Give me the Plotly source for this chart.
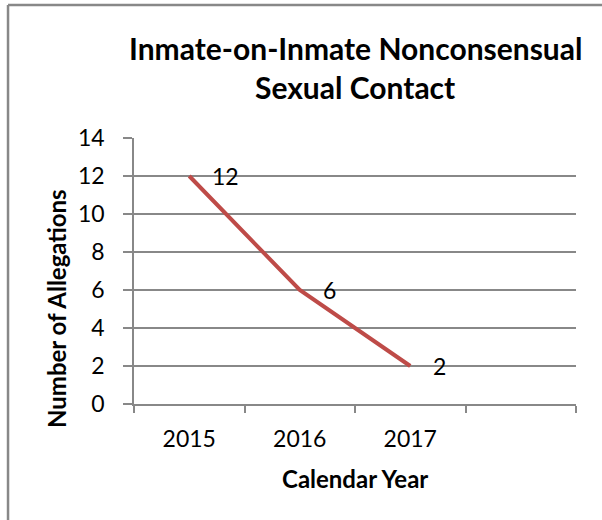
import plotly.graph_objects as go

years = [2015, 2016, 2017]
year_labels = ["2015", "2016", "2017"]
allegations = [12, 6, 2]
y_ticks = [0, 2, 4, 6, 8, 10, 12, 14]

title_lines = ["Inmate-on-Inmate Nonconsensual", "Sexual Contact"]
x_title = "Calendar Year"
y_title = "Number of Allegations"

FONT = "Lato"
GRID = "#888888"
LINE = "#BE4B48"

fig = go.Figure()
fig.add_trace(go.Scatter(
    x=years, y=allegations, mode="lines",
    line=dict(color=LINE, width=4),
    hoverinfo="skip", showlegend=False,
))

for x, y in zip(years, allegations):
    fig.add_annotation(x=x, y=y, xref="x", yref="y", text=str(y),
                       showarrow=False, xanchor="left", yanchor="middle",
                       xshift=21, font=dict(family=FONT, size=23, color="#000000"))

# title (two lines)
for line, shift in zip(title_lines, [90, 51]):
    fig.add_annotation(x=0.5, y=1, xref="paper", yref="paper",
                       text="<b>" + line + "</b>", showarrow=False,
                       xanchor="center", yanchor="middle", yshift=shift,
                       font=dict(family=FONT, size=30, color="#000000"))
# y title
fig.add_annotation(x=0, y=0.5, xref="paper", yref="paper",
                   text="<b>" + y_title + "</b>", showarrow=False, textangle=-90,
                   xanchor="center", yanchor="middle", xshift=-78, yshift=-38,
                   font=dict(family=FONT, size=24, color="#000000"))
# x title
fig.add_annotation(x=0.5, y=0, xref="paper", yref="paper",
                   text="<b>" + x_title + "</b>", showarrow=False,
                   xanchor="center", yanchor="middle", yshift=-74,
                   font=dict(family=FONT, size=24, color="#000000"))

# chart-area frame: only its left and top edges fall inside the picture
fig.add_shape(type="line", xref="paper", yref="paper",
              x0=-0.285, x1=-0.285, y0=-0.8, y1=1.5,
              line=dict(color="#888888", width=2.5), layer="below")
fig.add_shape(type="line", xref="paper", yref="paper",
              x0=-0.285, x1=1.5, y0=1.5, y1=1.5,
              line=dict(color="#888888", width=2.5), layer="below")

fig.update_layout(
    width=602, height=520,
    margin=dict(l=134, r=26, t=138, b=116),
    paper_bgcolor="white", plot_bgcolor="white",
    xaxis=dict(
        range=[2014.5, 2018.5], tickmode="array", tickvals=years, ticktext=year_labels,
        ticks="", showgrid=False, zeroline=False,
        showline=True, linecolor=GRID, linewidth=1.5,
        ticklabelstandoff=14,
        tickfont=dict(family=FONT, size=23, color="#000000"),
        minor=dict(tick0=2014.5, dtick=1, ticks="outside", ticklen=7, tickcolor=GRID,
                   tickwidth=1.5, showgrid=False),
        fixedrange=True,
    ),
    yaxis=dict(
        range=[0, 14], tickmode="array", tickvals=y_ticks,
        ticks="outside", ticklen=9, tickcolor=GRID, tickwidth=1.5,
        showgrid=True, gridcolor=GRID, gridwidth=1.5, zeroline=False,
        showline=True, linecolor=GRID, linewidth=1.5,
        ticklabelstandoff=14,
        tickfont=dict(family=FONT, size=23, color="#000000"),
        fixedrange=True,
    ),
)

fig.write_html("out.html", config={"displayModeBar": False},
               post_script="document.body.style.margin='0px';")
